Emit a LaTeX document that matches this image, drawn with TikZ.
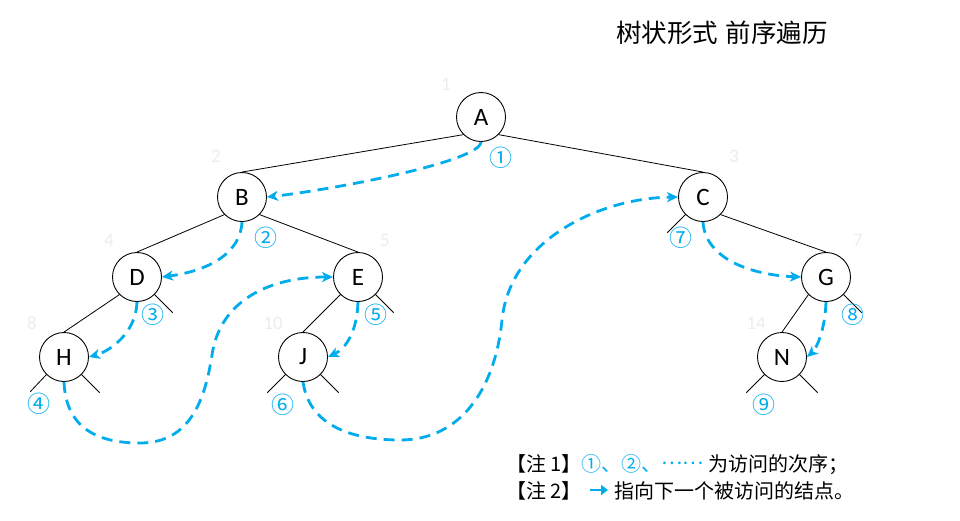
\documentclass[tikz,border=0pt]{standalone}
\usepackage{fontspec}
\setmainfont{Carlito}
\newfontfamily\cjk{Noto Sans CJK SC}
\usetikzlibrary{arrows.meta}
\definecolor{vblue}{RGB}{0,172,236}
\definecolor{idxgray}{RGB}{236,236,236}
\begin{document}
\begin{tikzpicture}[x=1pt,y=-1pt,
  tnode/.style={circle,draw,line width=0.9pt,minimum size=49pt,inner sep=0pt,font=\fontsize{25}{25}\selectfont},
  edge/.style={line width=0.8pt},
  visit/.style={draw=vblue,line width=2.8pt,dash pattern=on 11pt off 7pt,-{Stealth[length=11pt,width=10pt,inset=3pt]}},
  idx/.style={text=idxgray,font=\fontsize{19}{19}\selectfont,inner sep=0pt},
  ord/.style={text=vblue,font=\cjk\fontsize{23}{23}\selectfont,inner sep=0pt},
  note/.style={anchor=base west,inner sep=0pt,font=\cjk\fontsize{20}{20}\selectfont}]
\useasboundingbox (0,0) rectangle (960,520);

% title
\node (title) at (722,33) {\cjk\fontsize{25.5}{25.5}\selectfont 树状形式\hspace{8pt}前序遍历};

% nodes
\node[tnode] (A) at (481,117) {A};
\node[tnode] (B) at (242,197) {B};
\node[tnode] (C) at (703,197) {C};
\node[tnode] (D) at (137,277) {D};
\node[tnode] (E) at (358,277) {E};
\node[tnode] (G) at (826,277) {G};
\node[tnode] (H) at (64,357) {H};
\node[tnode] (J) at (303,357) {J};
\node[tnode] (N) at (782,357) {N};

% edges
\draw[edge] (A.south west) -- (B.north);
\draw[edge] (A.south east) -- (C.north);
\draw[edge] (B.south west) -- (D.north);
\draw[edge] (B.south east) -- (E.north);
\draw[edge] (C.south east) -- (G.north);
\draw[edge] (D.south west) -- (H.north);
\draw[edge] (E.south west) -- (J.north);
\draw[edge] (G.south west) -- (N.north);
% null stubs
\draw[edge] (C.south west) -- ++(-18,18);
\draw[edge] (D.south east) -- ++(18,18);
\draw[edge] (E.south east) -- ++(18,18);
\draw[edge] (G.south east) -- ++(18,18);
\draw[edge] (H.south west) -- ++(-16,17);
\draw[edge] (H.south east) -- ++(18,18);
\draw[edge] (J.south west) -- ++(-18,18);
\draw[edge] (J.south east) -- ++(18,18);
\draw[edge] (N.south west) -- ++(-18,18);
\draw[edge] (N.south east) -- ++(18,18);

% index numbers
\node[idx] (i1) at (446,84) {1};
\node[idx] (i2) at (216,156) {2};
\node[idx] (i3) at (734,156) {3};
\node[idx] (i4) at (109,240) {4};
\node[idx] (i5) at (385,240) {5};
\node[idx] (i7) at (858,240) {7};
\node[idx] (i8) at (32,323) {8};
\node[idx] (i10) at (273,323) {10};
\node[idx] (i14) at (756,323) {14};

% visit order
\node[ord] (o1) at (501,158) {①};
\node[ord] (o2) at (266,238) {②};
\node[ord] (o3) at (153,315) {③};
\node[ord] (o4) at (39,404) {④};
\node[ord] (o5) at (376,315) {⑤};
\node[ord] (o6) at (283,405) {⑥};
\node[ord] (o7) at (681,238) {⑦};
\node[ord] (o8) at (853,315) {⑧};
\node[ord] (o9) at (764,405) {⑨};

% traversal arrows
\draw[visit] (A.south) .. controls (480,162) and (330,190) .. (B.east);
\draw[visit] (B.south) .. controls (240,258) and (200,272) .. (D.east);
\draw[visit] (D.south) .. controls (136,333) and (110,351) .. (H.east);
\draw[visit] (H.south) .. controls (66,430) and (100,443) .. (140,443)
  .. controls (190,443) and (205,400) .. (212,355)
  .. controls (220,300) and (270,277) .. (E.west);
\draw[visit] (E.south) .. controls (357,333) and (345,349) .. (J.east);
\draw[visit] (J.south) .. controls (310,430) and (360,440) .. (400,440)
  .. controls (460,440) and (495,390) .. (502,320)
  .. controls (510,240) and (600,198) .. (C.west);
\draw[visit] (C.south) .. controls (705,258) and (750,275) .. (G.west);
\draw[visit] (G.south) .. controls (825,333) and (815,350) .. (N.east);

% notes
\node[note] (n1) at (506,471) {【注 1】\textcolor{vblue}{①、②、\raisebox{0.32em}{……}} 为访问的次序；};
\node[note] (n2a) at (506,498) {【注 2】};
\coordinate (la) at (590,490);
\coordinate (lb) at (608,490);
\draw[vblue,line width=2.8pt,-{Triangle[length=7pt,width=10pt]}] (la) -- (lb);
\node[note] (n2b) at (614,498) {指向下一个被访问的结点。};
\end{tikzpicture}
\end{document}
